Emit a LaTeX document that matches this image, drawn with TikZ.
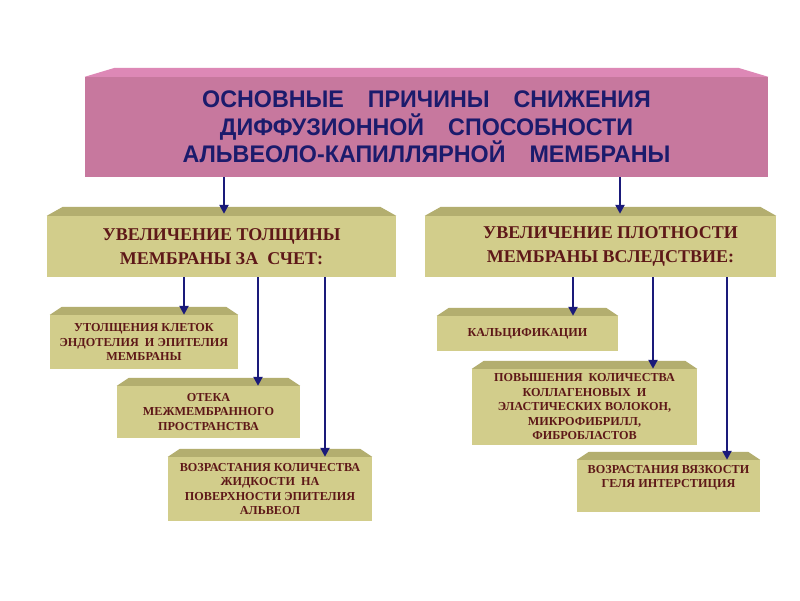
\documentclass[tikz,border=0pt]{standalone}
\usepackage{fontspec}
\setmainfont{Liberation Serif}
\newfontfamily\titlefont[FakeStretch=0.97]{Liberation Sans}
\usetikzlibrary{arrows.meta,calc}
\definecolor{pinkF}{HTML}{C7789E}
\definecolor{pinkT}{HTML}{DD88B6}
\definecolor{oliveF}{HTML}{D2CD8B}
\definecolor{oliveT}{HTML}{B3AE6F}
\definecolor{navytxt}{HTML}{1B1B6C}
\definecolor{maroontxt}{HTML}{5E1818}
\definecolor{arrowc}{HTML}{1A1A7A}
\newcommand\bevel[4]{%
  \fill[#4] (#1.north west) -- ($(#1.north west)+(#2,-#3)$) -- ($(#1.north east)+(-#2,-#3)$) -- (#1.north east) -- cycle;}
\tikzset{
  frontbox/.style={fill=#1, draw=none, inner sep=0pt, align=center},
  titletext/.style={text=navytxt, font=\titlefont\bfseries\fontsize{24}{27.5}\selectfont},
  midtext/.style={text=maroontxt, font=\bfseries\fontsize{18}{24}\selectfont},
  smalltext/.style={text=maroontxt, font=\bfseries\fontsize{12.2}{14.5}\selectfont},
  arr/.style={draw=arrowc, line width=2.6pt, -{Triangle[length=9pt,width=9pt]}}
}
\begin{document}
\begin{tikzpicture}[x=1pt,y=-1pt]
\useasboundingbox[fill=white] (0,0) rectangle (800,600);

% top box
\node[frontbox=pinkF, titletext, minimum width=683pt, minimum height=100pt] (top) at (426.5,127)
  {ОСНОВНЫЕ\quad ПРИЧИНЫ\quad СНИЖЕНИЯ\\ДИФФУЗИОННОЙ\quad СПОСОБНОСТИ\\АЛЬВЕОЛО-КАПИЛЛЯРНОЙ\quad МЕМБРАНЫ};
\bevel{top}{30}{9}{pinkT}

% middle boxes
\node[frontbox=oliveF, midtext, minimum width=349pt, minimum height=61pt] (lmid) at (221.5,246.5)
  {УВЕЛИЧЕНИЕ ТОЛЩИНЫ\\МЕМБРАНЫ ЗА\ \ СЧЕТ:};
\bevel{lmid}{16}{9}{oliveT}
\node[frontbox=oliveF, midtext, minimum width=351pt, minimum height=61pt] (rmid) at (600.5,246.5)
  {\hspace*{20pt}УВЕЛИЧЕНИЕ ПЛОТНОСТИ\\\hspace*{20pt}МЕМБРАНЫ ВСЛЕДСТВИЕ:};
\bevel{rmid}{16}{9}{oliveT}

% left small boxes
\node[frontbox=oliveF, smalltext, minimum width=188pt, minimum height=54pt] (b1) at (144,342)
  {УТОЛЩЕНИЯ КЛЕТОК\\ЭНДОТЕЛИЯ\ \ И ЭПИТЕЛИЯ\\МЕМБРАНЫ};
\bevel{b1}{12}{8}{oliveT}
\node[frontbox=oliveF, smalltext, minimum width=183pt, minimum height=52pt] (b2) at (208.5,412)
  {ОТЕКА\\МЕЖМЕМБРАННОГО\\ПРОСТРАНСТВА};
\bevel{b2}{12}{8}{oliveT}
\node[frontbox=oliveF, smalltext, minimum width=204pt, minimum height=64pt] (b3) at (270,489)
  {ВОЗРАСТАНИЯ КОЛИЧЕСТВА\\ЖИДКОСТИ\ \ НА\\ПОВЕРХНОСТИ ЭПИТЕЛИЯ\\АЛЬВЕОЛ};
\bevel{b3}{12}{8}{oliveT}

% right small boxes
\node[frontbox=oliveF, smalltext, minimum width=181pt, minimum height=35pt] (b4) at (527.5,333.5)
  {КАЛЬЦИФИКАЦИИ};
\bevel{b4}{12}{8}{oliveT}
\node[frontbox=oliveF, smalltext, minimum width=225pt, minimum height=76pt] (b5) at (584.5,407)
  {ПОВЫШЕНИЯ\ \ КОЛИЧЕСТВА\\КОЛЛАГЕНОВЫХ\ \ И\\ЭЛАСТИЧЕСКИХ ВОЛОКОН,\\МИКРОФИБРИЛЛ,\\ФИБРОБЛАСТОВ};
\bevel{b5}{12}{8}{oliveT}
\node[frontbox=oliveF, smalltext, minimum width=183pt, minimum height=52pt] (b6) at (668.5,486)
  {ВОЗРАСТАНИЯ ВЯЗКОСТИ\\ГЕЛЯ ИНТЕРСТИЦИЯ\\\strut};
\bevel{b6}{12}{8}{oliveT}

% arrow x positions
\coordinate (xa) at (224,0);
\coordinate (xb) at (620,0);
\coordinate (x1) at (184,0);
\coordinate (x2) at (258,0);
\coordinate (x3) at (325,0);
\coordinate (x4) at (573,0);
\coordinate (x5) at (653,0);
\coordinate (x6) at (727,0);

\draw[arr] (top.south -| xa) -- ($(lmid.north -| xa)+(0,-2)$);
\draw[arr] (top.south -| xb) -- ($(rmid.north -| xb)+(0,-2)$);
\draw[arr] (lmid.south -| x1) -- (b1.north -| x1);
\draw[arr] (lmid.south -| x2) -- (b2.north -| x2);
\draw[arr] (lmid.south -| x3) -- (b3.north -| x3);
\draw[arr] (rmid.south -| x4) -- (b4.north -| x4);
\draw[arr] (rmid.south -| x5) -- (b5.north -| x5);
\draw[arr] (rmid.south -| x6) -- (b6.north -| x6);
\end{tikzpicture}
\end{document}
